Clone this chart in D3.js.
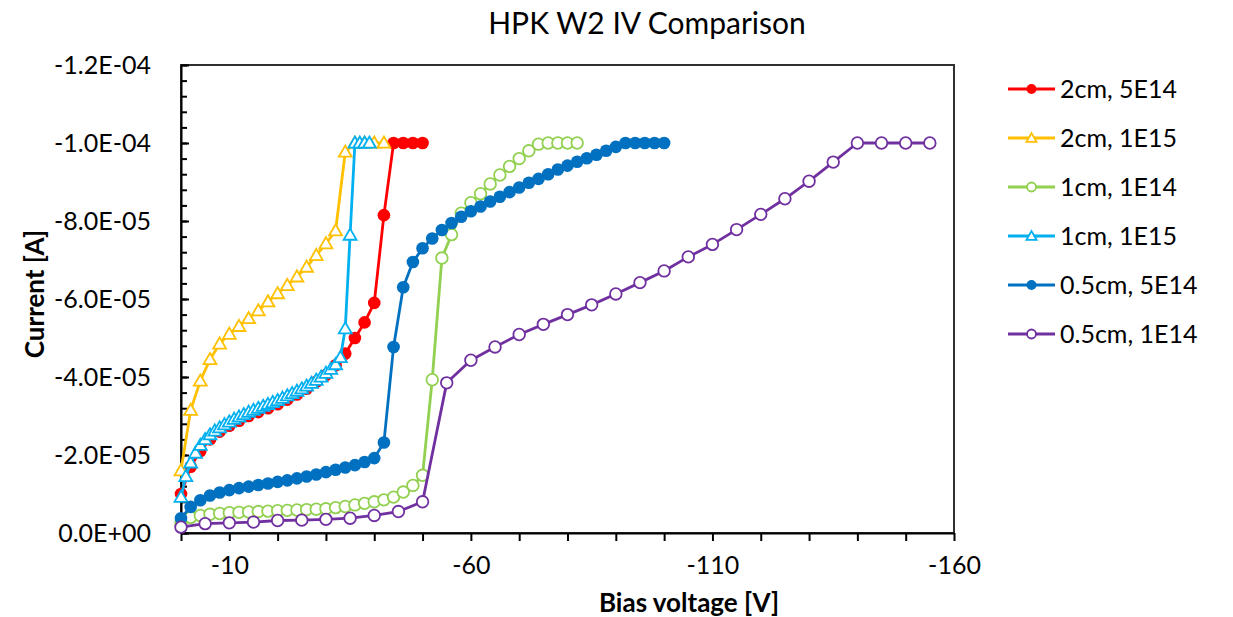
<!DOCTYPE html>
<html>
<head>
<meta charset="utf-8">
<script src="https://cdn.jsdelivr.net/npm/d3@7"></script>
<style>
  body { margin: 0; background: #fff; }
  svg { font-family: Lato, "Open Sans", sans-serif; }
</style>
</head>
<body>
<svg id="chart" width="1233" height="617"></svg>
<script>
//series data: bias voltage [V] and current [A]
var v2cm5e14 = [0,-2,-4,-6,-8,-10,-12,-14,-16,-18,-20,-22,-24,-26,-28,-30,-32,-34,-36,-38,-40,-42,-44,-46,-48,-50];
var i2cm5e14 = [-1.0e-5,-1.7e-5,-2.1e-5,-2.4e-5,-2.6e-5,-2.75e-5,-2.88e-5,-3.0e-5,-3.1e-5,-3.2e-5,-3.3e-5,-3.42e-5,-3.55e-5,-3.7e-5,-3.88e-5,-4.05e-5,-4.3e-5,-4.6e-5,-5.0e-5,-5.4e-5,-5.9e-5,-8.15e-5,-1.0e-4,-1.0e-4,-1.0e-4,-1.0e-4];

var v2cm1e15 = [0,-2,-4,-6,-8,-10,-12,-14,-16,-18,-20,-22,-24,-26,-28,-30,-32,-34,-36,-38,-40,-42];
var i2cm1e15 = [-1.6e-5,-3.15e-5,-3.9e-5,-4.45e-5,-4.85e-5,-5.1e-5,-5.3e-5,-5.5e-5,-5.7e-5,-5.93e-5,-6.14e-5,-6.35e-5,-6.57e-5,-6.82e-5,-7.12e-5,-7.42e-5,-7.75e-5,-9.77e-5,-1.0e-4,-1.0e-4,-1.0e-4,-1.0e-4];

var v1cm1e14 = [0,-2,-4,-6,-8,-10,-12,-14,-16,-18,-20,-22,-24,-26,-28,-30,-32,-34,-36,-38,-40,-42,-44,-46,-48,-50,-52,-54,-56,-58,-60,-62,-64,-66,-68,-70,-72,-74,-76,-78,-80,-82];
var i1cm1e14 = [-2.5e-6,-4.0e-6,-4.5e-6,-4.8e-6,-5.0e-6,-5.2e-6,-5.3e-6,-5.4e-6,-5.5e-6,-5.6e-6,-5.7e-6,-5.8e-6,-5.9e-6,-6.0e-6,-6.1e-6,-6.2e-6,-6.5e-6,-6.8e-6,-7.2e-6,-7.6e-6,-8.0e-6,-8.5e-6,-9.2e-6,-1.05e-5,-1.22e-5,-1.48e-5,-3.93e-5,-7.05e-5,-7.65e-5,-8.2e-5,-8.47e-5,-8.7e-5,-8.95e-5,-9.18e-5,-9.4e-5,-9.6e-5,-9.8e-5,-9.97e-5,-1.0e-4,-1.0e-4,-1.0e-4,-1.0e-4];

var v1cm1e15 = [0,-1,-2,-3,-4,-5,-6,-7,-8,-9,-10,-11,-12,-13,-14,-15,-16,-17,-18,-19,-20,-21,-22,-23,-24,-25,-26,-27,-28,-29,-30,-31,-32,-33,-34,-35,-36,-37,-38,-39];
var i1cm1e15 = [-9.2e-6,-1.45e-5,-1.8e-5,-2.05e-5,-2.25e-5,-2.4e-5,-2.52e-5,-2.62e-5,-2.7e-5,-2.78e-5,-2.85e-5,-2.92e-5,-2.98e-5,-3.04e-5,-3.1e-5,-3.15e-5,-3.2e-5,-3.25e-5,-3.3e-5,-3.35e-5,-3.4e-5,-3.46e-5,-3.52e-5,-3.58e-5,-3.64e-5,-3.7e-5,-3.77e-5,-3.84e-5,-3.92e-5,-4.0e-5,-4.1e-5,-4.2e-5,-4.32e-5,-4.5e-5,-5.24e-5,-7.64e-5,-1.0e-4,-1.0e-4,-1.0e-4,-1.0e-4];

var v05cm5e14 = [0,-2,-4,-6,-8,-10,-12,-14,-16,-18,-20,-22,-24,-26,-28,-30,-32,-34,-36,-38,-40,-42,-44,-46,-48,-50,-52,-54,-56,-58,-60,-62,-64,-66,-68,-70,-72,-74,-76,-78,-80,-82,-84,-86,-88,-90,-92,-94,-96,-98,-100];
var i05cm5e14 = [-3.8e-6,-6.7e-6,-8.4e-6,-9.6e-6,-1.04e-5,-1.1e-5,-1.15e-5,-1.19e-5,-1.23e-5,-1.27e-5,-1.31e-5,-1.35e-5,-1.4e-5,-1.45e-5,-1.5e-5,-1.56e-5,-1.62e-5,-1.68e-5,-1.74e-5,-1.82e-5,-1.92e-5,-2.32e-5,-4.77e-5,-6.3e-5,-6.95e-5,-7.3e-5,-7.55e-5,-7.77e-5,-7.95e-5,-8.11e-5,-8.25e-5,-8.37e-5,-8.5e-5,-8.62e-5,-8.74e-5,-8.86e-5,-8.98e-5,-9.08e-5,-9.2e-5,-9.32e-5,-9.42e-5,-9.52e-5,-9.61e-5,-9.7e-5,-9.8e-5,-9.9e-5,-1.0e-4,-1.0e-4,-1.0e-4,-1.0e-4,-1.0e-4];

var v05cm1e14 = [0,-5,-10,-15,-20,-25,-30,-35,-40,-45,-50,-55,-60,-65,-70,-75,-80,-85,-90,-95,-100,-105,-110,-115,-120,-125,-130,-135,-140,-145,-150,-155];
var i05cm1e14 = [-1.5e-6,-2.4e-6,-2.6e-6,-2.8e-6,-3.2e-6,-3.3e-6,-3.5e-6,-3.8e-6,-4.5e-6,-5.5e-6,-8.0e-6,-3.85e-5,-4.43e-5,-4.77e-5,-5.09e-5,-5.35e-5,-5.6e-5,-5.85e-5,-6.13e-5,-6.42e-5,-6.72e-5,-7.08e-5,-7.4e-5,-7.78e-5,-8.17e-5,-8.57e-5,-9.02e-5,-9.51e-5,-1.0e-4,-1.0e-4,-1.0e-4,-1.0e-4];

//legend names, colours and marker types (same order as the series)
var seriesNames = ["2cm, 5E14", "2cm, 1E15", "1cm, 1E14", "1cm, 1E15", "0.5cm, 5E14", "0.5cm, 1E14"];
var seriesColors = ["#FF0000", "#FFC000", "#92D050", "#00B0F0", "#0070C0", "#7030A0"];
var seriesMarkers = ["dot", "triangle", "circle", "triangle", "dot", "circle"];
var seriesV = [v2cm5e14, v2cm1e15, v1cm1e14, v1cm1e15, v05cm5e14, v05cm1e14];
var seriesI = [i2cm5e14, i2cm1e15, i1cm1e14, i1cm1e15, i05cm5e14, i05cm1e14];

//axis ticks
var xTickValues = [0,-10,-20,-30,-40,-50,-60,-70,-80,-90,-100,-110,-120,-130,-140,-150,-160];
var xTickLabels = [-10,-60,-110,-160];
var yTickValues = [0,-2e-5,-4e-5,-6e-5,-8e-5,-1e-4,-1.2e-4];
var yTickLabels = ["0.0E+00","-2.0E-05","-4.0E-05","-6.0E-05","-8.0E-05","-1.0E-04","-1.2E-04"];

//plot area (pixels)
var plotLeft = 181, plotRight = 954, plotTop = 65, plotBottom = 533;

var svg = d3.select("#chart");

var x = d3.scaleLinear()
	.domain([0, -160])
	.range([plotLeft, plotRight]);

var y = d3.scaleLinear()
	.domain([0, -1.2e-4])
	.range([plotBottom, plotTop]);

//plot border (top and right sides show)
svg.append("rect")
	.attr("x", plotLeft)
	.attr("y", plotTop)
	.attr("width", plotRight - plotLeft)
	.attr("height", plotBottom - plotTop)
	.attr("fill", "none")
	.attr("stroke", "#303030")
	.attr("stroke-width", 2);

//		==AXES==

//minor y ticks, inside
var yMinor = d3.range(0, 31).map(function(i){ return -i * 4e-6; });
svg.append("g")
	.attr("transform", "translate(" + plotLeft + ",0)")
	.call(d3.axisLeft(y).tickValues(yMinor).tickSize(-6).tickSizeOuter(0).tickFormat(""))
	.call(function(g){ g.select(".domain").remove(); })
	.selectAll("line").attr("stroke", "#000").attr("stroke-width", 2);

var yAxis = svg.append("g")
	.attr("transform", "translate(" + plotLeft + ",0)")
	.call(d3.axisLeft(y)
		.tickValues(yTickValues)
		.tickSize(-8)
		.tickSizeOuter(0)
		.tickPadding(30)
		.tickFormat(function(d, i){ return yTickLabels[i]; }));
yAxis.select(".domain").attr("stroke", "#000").attr("stroke-width", 2);
yAxis.selectAll("line").attr("stroke", "#000").attr("stroke-width", 2);
yAxis.selectAll("text")
	.attr("font-size", "25px")
	.attr("fill", "#000")
	.style("font-family", "Lato, sans-serif");

var xAxis = svg.append("g")
	.attr("transform", "translate(0," + plotBottom + ")")
	.call(d3.axisBottom(x)
		.tickValues(xTickValues)
		.tickSize(8)
		.tickSizeOuter(0)
		.tickPadding(15)
		.tickFormat(function(d){ return xTickLabels.indexOf(d) >= 0 ? String(d) : ""; }));
xAxis.select(".domain").attr("stroke", "#000").attr("stroke-width", 2);
xAxis.selectAll("line").attr("stroke", "#000").attr("stroke-width", 2);
xAxis.selectAll("text")
	.attr("font-size", "25px")
	.attr("fill", "#000")
	.style("font-family", "Lato, sans-serif");

//		==SERIES==

var line = d3.line()
	.x(function(d){ return x(d[0]); })
	.y(function(d){ return y(d[1]); });

var triangle = d3.symbol().type(d3.symbolTriangle);

function drawMarker(g, type, color, big){
	if (type == "dot"){
		g.append("circle")
			.attr("r", big ? 6.3 : 5)
			.attr("fill", color);
	} else if (type == "circle"){
		g.append("circle")
			.attr("r", big ? 5.8 : 4.5)
			.attr("fill", "#fff")
			.attr("stroke", color)
			.attr("stroke-width", 1.8);
	} else {
		g.append("path")
			.attr("d", triangle.size(big ? 72 : 45)())
			.attr("transform", "translate(0,1)")
			.attr("fill", "#fff")
			.attr("stroke", color)
			.attr("stroke-width", 1.8);
	}
}

seriesNames.forEach(function(name, s){
	var pts = seriesV[s].map(function(v, i){ return [v, seriesI[s][i]]; });
	var g = svg.append("g").attr("class", "series");

	g.append("path")
		.attr("d", line(pts))
		.attr("fill", "none")
		.attr("stroke", seriesColors[s])
		.attr("stroke-width", 2.8)
		.attr("stroke-linejoin", "round");

	g.selectAll(".marker")
		.data(pts)
		.enter().append("g")
		.attr("class", "marker")
		.attr("transform", function(d){ return "translate(" + x(d[0]) + "," + y(d[1]) + ")"; })
		.each(function(){ drawMarker(d3.select(this), seriesMarkers[s], seriesColors[s], true); });
});

//		==LEGEND==

var legend = svg.append("g").attr("class", "legend");
seriesNames.forEach(function(name, s){
	var ly = 89 + s * 49;
	legend.append("line")
		.attr("x1", 1008).attr("x2", 1055)
		.attr("y1", ly).attr("y2", ly)
		.attr("stroke", seriesColors[s])
		.attr("stroke-width", 2.8);
	var m = legend.append("g").attr("transform", "translate(1031.5," + ly + ")");
	drawMarker(m, seriesMarkers[s], seriesColors[s], false);
	legend.append("text")
		.attr("x", 1060)
		.attr("y", ly)
		.attr("dy", "0.35em")
		.attr("font-size", "25px")
		.attr("fill", "#000")
		.text(name);
});

//		==TITLES==

svg.append("text")
	.attr("x", 647)
	.attr("y", 34)
	.attr("text-anchor", "middle")
	.attr("font-size", "30px")
	.attr("fill", "#000")
	.text("HPK W2 IV Comparison");

svg.append("text")
	.attr("x", 689)
	.attr("y", 612)
	.attr("text-anchor", "middle")
	.attr("font-size", "26px")
	.attr("font-weight", "bold")
	.attr("fill", "#000")
	.text("Bias voltage [V]");

svg.append("text")
	.attr("transform", "translate(44,294) rotate(-90)")
	.attr("text-anchor", "middle")
	.attr("font-size", "26px")
	.attr("font-weight", "bold")
	.attr("fill", "#000")
	.text("Current [A]");
</script>
</body>
</html>
